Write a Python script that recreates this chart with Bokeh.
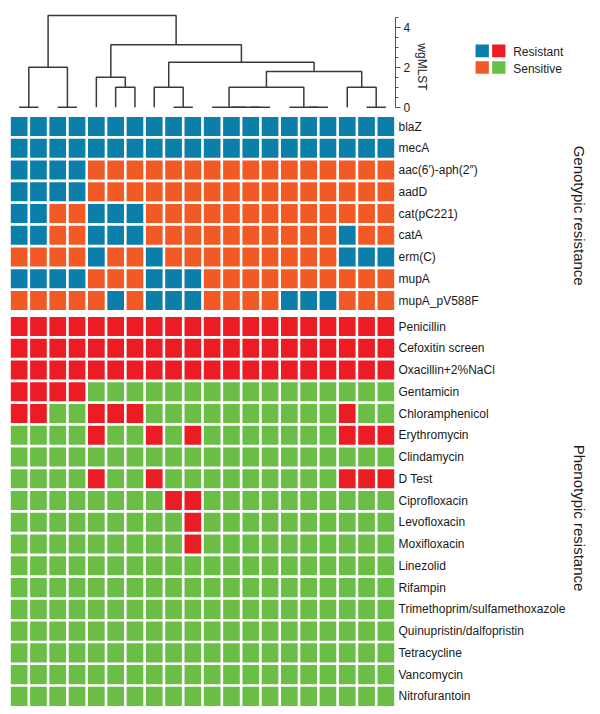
import math
from bokeh.plotting import figure
from bokeh.models import Range1d, LinearAxis, FixedTicker, ColumnDataSource
from bokeh.layouts import column, row
from bokeh.embed import file_html
from bokeh.resources import INLINE
from bokeh.core.properties import value

FONT = "Liberation Sans"

# ---------------- data ----------------
n_isolates = 20  # isolates in dendrogram order, left to right

geno_labels = ["blaZ", "mecA", "aac(6′)-aph(2″)", "aadD", "cat(pC221)",
               "catA", "erm(C)", "mupA", "mupA_pV588F"]
# R = resistance gene present, S = absent
geno_calls = [
    "RRRRRRRRRRRRRRRRRRRR",
    "RRRRRRRRRRRRRRRRRRRR",
    "RRRRSSSSSSSSSSSSSSSS",
    "RRRRSSSSSSSSSSSSSSSS",
    "RRSSRRRSSSSSSSSSSSSS",
    "RRSSRRRSSSSSSSSSSRSS",
    "SSSSRSSRSSSSSSSSSRRR",
    "RRRRSSSRRRSSSSSSSSSS",
    "SSSSSRSRRRSSSSRRRSSS",
]

pheno_labels = ["Penicillin", "Cefoxitin screen", "Oxacillin+2%NaCl", "Gentamicin",
                "Chloramphenicol", "Erythromycin", "Clindamycin", "D Test",
                "Ciprofloxacin", "Levofloxacin", "Moxifloxacin", "Linezolid",
                "Rifampin", "Trimethoprim/sulfamethoxazole", "Quinupristin/dalfopristin",
                "Tetracycline", "Vancomycin", "Nitrofurantoin"]
pheno_calls = [
    "RRRRRRRRRRRRRRRRRRRR",
    "RRRRRRRRRRRRRRRRRRRR",
    "RRRRRRRRRRRRRRRRRRRR",
    "RRRRSSSSSSSSSSSSSSSS",
    "RRSSRRRSSSSSSSSSSRSS",
    "SSSSRSSRSRSSSSSSSRRR",
    "SSSSSSSSSSSSSSSSSSSS",
    "SSSSRSSRSSSSSSSSSRRR",
    "SSSSSSSSRRSSSSSSSSSS",
    "SSSSSSSSSRSSSSSSSSSS",
    "SSSSSSSSSRSSSSSSSSSS",
    "SSSSSSSSSSSSSSSSSSSS",
    "SSSSSSSSSSSSSSSSSSSS",
    "SSSSSSSSSSSSSSSSSSSS",
    "SSSSSSSSSSSSSSSSSSSS",
    "SSSSSSSSSSSSSSSSSSSS",
    "SSSSSSSSSSSSSSSSSSSS",
    "SSSSSSSSSSSSSSSSSSSS",
]

section_labels = ["Genotypic resistance", "Phenotypic resistance"]

# dendrogram (wgMLST distance), scipy-like linkage: new cluster id = 20 + merge index
merge_a = [0, 2, 20, 5, 4, 8, 7, 12, 11, 10, 15, 14, 29, 18, 17, 32, 26, 24, 22]
merge_b = [1, 3, 21, 6, 23, 9, 25, 13, 27, 28, 16, 30, 31, 19, 33, 34, 35, 36, 37]
merge_h = [0.0, 0.0, 2.0, 1.0, 1.5, 0.0, 1.0, 0.0, 0.0, 0.0, 0.0, 0.0, 1.0, 0.0,
           1.0, 1.78, 2.25, 3.12, 4.59]
wg_ticks = [0, 2, 4]
wg_minor = [0.0, 0.5, 1.0, 1.5, 2.0, 2.5, 3.0, 3.5, 4.0, 4.5]
wg_title = "wgMLST"

legend_labels = ["Resistant", "Sensitive"]
geno_colors = {"R": "#0B7EA9", "S": "#F15A24"}
pheno_colors = {"R": "#EC1C24", "S": "#6ABD45"}

# ---------------- geometry ----------------
ROW_GAP = 0.2
geno_y = [float(i) for i in range(len(geno_labels))]
pheno_y = [round(len(geno_labels) + ROW_GAP + j, 2) for j in range(len(pheno_labels))]
section_y = [4.1, 18.0]

x_range = Range1d(0, n_isolates)
heat_y_range = Range1d(27.034, -0.46)

# ---------------- dendrogram figure ----------------
pd = figure(width=414, height=116, x_range=x_range, y_range=Range1d(-0.465, 5.335),
            output_backend="svg", toolbar_location=None,
            x_axis_location=None, y_axis_location=None,
            min_border_left=9, min_border_right=19, min_border_top=0, min_border_bottom=0)
pd.outline_line_color = None
pd.grid.visible = False

pos = [i + 0.5 for i in range(n_isolates)]
hgt = [0.0] * n_isolates
xs, ys = [], []
for a, b, h in zip(merge_a, merge_b, merge_h):
    xa, xb = pos[a], pos[b]
    xs.append([xa, xa, xb, xb])
    ys.append([hgt[a], h, h, hgt[b]])
    pos.append((xa + xb) / 2)
    hgt.append(h)
pd.multi_line(xs=xs, ys=ys, line_color="#3a3a3a", line_width=1.5)

wg_axis = LinearAxis(bounds=(0, 4.5),
                     ticker=FixedTicker(ticks=wg_ticks, minor_ticks=wg_minor))
wg_axis.axis_line_color = "#555555"
wg_axis.major_tick_line_color = "#555555"
wg_axis.minor_tick_line_color = "#555555"
wg_axis.major_tick_in = 0
wg_axis.major_tick_out = 5
wg_axis.minor_tick_in = 0
wg_axis.minor_tick_out = 3
wg_axis.major_label_standoff = 3
wg_axis.major_label_text_font = FONT
wg_axis.major_label_text_font_size = "12px"
wg_axis.major_label_text_color = "#222222"
pd.add_layout(wg_axis, "right")

# ---------------- axis-title + legend figure ----------------
pl = figure(width=186, height=116, x_range=Range1d(414, 600), y_range=Range1d(116, 0),
            output_backend="svg", toolbar_location=None,
            x_axis_location=None, y_axis_location=None,
            min_border=0)
pl.outline_line_color = None
pl.grid.visible = False
pl.text(x=[421.5], y=[66.5], text=[wg_title], angle=-math.pi / 2,
        text_font=value(FONT), text_font_size=value("12px"),
        text_align="center", text_baseline="middle", text_color="#222222")
leg_src = ColumnDataSource(dict(
    xg=[481.7, 481.7], xp=[498.3, 498.3], y=[50.3, 67.0], yt=[51.0, 68.5],
    cg=[geno_colors["R"], geno_colors["S"]],
    cp=[pheno_colors["R"], pheno_colors["S"]],
    label=legend_labels))
pl.rect(x="xg", y="y", width=13.3, height=12.7, fill_color="cg", line_color=None, source=leg_src)
pl.rect(x="xp", y="y", width=13.3, height=12.7, fill_color="cp", line_color=None, source=leg_src)
pl.text(x=512.7, y="yt", text="label", source=leg_src, text_font=value(FONT),
        text_font_size=value("12px"), text_baseline="middle", text_align="left",
        text_color="#222222")

# ---------------- heatmap figure ----------------
ph = figure(width=570, height=598, x_range=x_range, y_range=heat_y_range,
            output_backend="svg", toolbar_location=None,
            x_axis_location=None, y_axis_location=None,
            min_border_left=9, min_border_right=175, min_border_top=0, min_border_bottom=0)
ph.outline_line_color = None
ph.grid.visible = False

cx, cy, cc = [], [], []
for yv, calls in zip(geno_y, geno_calls):
    for i, c in enumerate(calls):
        cx.append(i + 0.5); cy.append(yv); cc.append(geno_colors[c])
for yv, calls in zip(pheno_y, pheno_calls):
    for i, c in enumerate(calls):
        cx.append(i + 0.5); cy.append(yv); cc.append(pheno_colors[c])
ph.rect(x=cx, y=cy, width=0.865, height=0.875, fill_color=cc, line_color=None)

all_y = geno_y + pheno_y
all_lab = geno_labels + pheno_labels
lab_axis = LinearAxis(ticker=FixedTicker(ticks=all_y, minor_ticks=[]),
                      major_label_overrides={yv: lab for yv, lab in zip(all_y, all_lab)})
lab_axis.axis_line_color = None
lab_axis.major_tick_line_color = None
lab_axis.minor_tick_line_color = None
lab_axis.major_tick_in = 0
lab_axis.major_tick_out = 0
lab_axis.major_label_standoff = 3
lab_axis.major_label_text_font = FONT
lab_axis.major_label_text_font_size = "12px"
lab_axis.major_label_text_color = "#1a1a1a"
ph.add_layout(lab_axis, "right")

# ---------------- section-title strip ----------------
ps = figure(width=30, height=598, x_range=Range1d(570, 600), y_range=heat_y_range,
            output_backend="svg", toolbar_location=None,
            x_axis_location=None, y_axis_location=None, min_border=0)
ps.outline_line_color = None
ps.grid.visible = False
ps.text(x=[579.0, 579.0], y=section_y, text=section_labels, angle=-math.pi / 2,
        text_font=value(FONT), text_font_size=value("15px"),
        text_align="center", text_baseline="middle", text_color="#1a1a1a")

layout = column(row(pd, pl), row(ph, ps))
open("out.html", "w").write(file_html(layout, INLINE))
